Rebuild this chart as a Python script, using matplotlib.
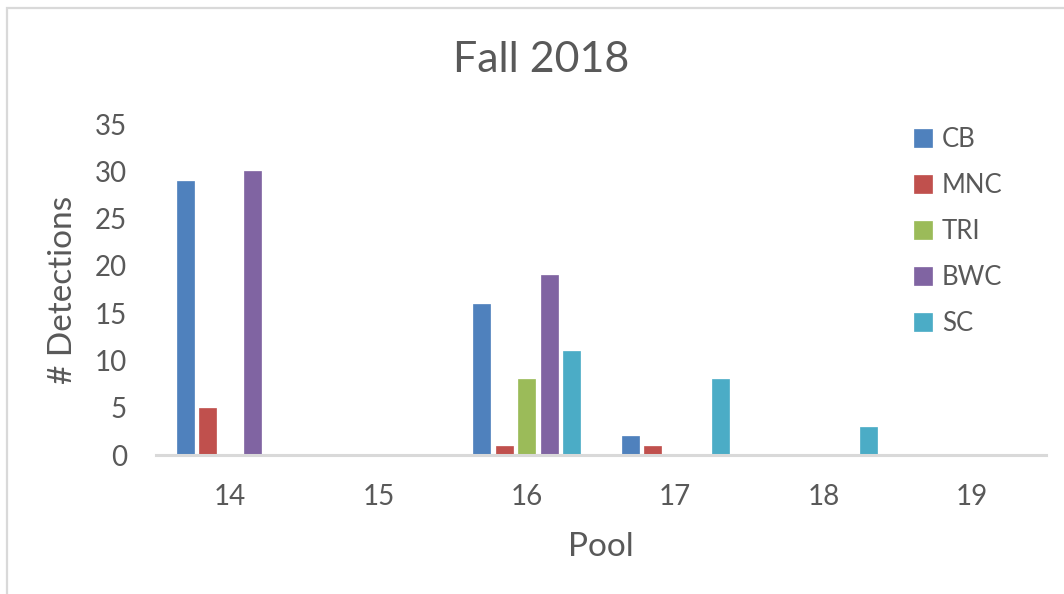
import matplotlib.pyplot as plt
import numpy as np
from matplotlib.patches import Rectangle

plt.rcParams['font.family'] = ['Lato', 'DejaVu Sans']

# data
pools = ["14", "15", "16", "17", "18", "19"]
series_names = ["CB", "MNC", "TRI", "BWC", "SC"]
cb = [29, 0, 16, 2, 0, 0]
mnc = [5, 0, 1, 1, 0, 0]
tri = [0, 0, 8, 0, 0, 0]
bwc = [30, 0, 19, 0, 0, 0]
sc = [0, 0, 11, 8, 3, 0]

colors = ["#4F81BD", "#C0504D", "#9BBB59", "#8064A2", "#4BACC6"]
text_col = "#595959"


def plot_chart():
    fig = plt.figure(figsize=(10.64, 5.94), dpi=100)
    ax = fig.add_axes([156 / 1064, 1 - 455 / 594, 890 / 1064, 331 / 594])

    x = np.arange(len(pools))
    step = 0.152
    width = 0.115
    all_series = [cb, mnc, tri, bwc, sc]
    for i, (name, vals) in enumerate(zip(series_names, all_series)):
        ax.bar(x + (i - 2) * step, vals, width, color=colors[i], label=name,
               edgecolor=colors[i], linewidth=0.5)

    ax.set_xlim(-0.5, len(pools) - 0.5)
    ax.set_ylim(0, 35)
    ax.set_yticks(range(0, 36, 5))
    ax.set_xticks(x)
    ax.set_xticklabels(pools)

    for side in ["top", "right", "left"]:
        ax.spines[side].set_visible(False)
    ax.spines["bottom"].set_color("#D9D9D9")
    ax.spines["bottom"].set_linewidth(2.2)

    ax.tick_params(axis="both", length=0, labelsize=20, colors=text_col)
    ax.tick_params(axis="y", pad=21)
    ax.tick_params(axis="x", pad=21)

    ax.set_xlabel("Pool", fontsize=24, color=text_col, labelpad=16)
    ax.set_ylabel("# Detections", fontsize=24, color=text_col, labelpad=12)
    fig.text(541 / 1064, 1 - 60 / 594, "Fall 2018", fontsize=31, color=text_col,
             ha="center", va="center")

    ax.legend(loc="upper left", bbox_to_anchor=(0.8254, 1.061), frameon=False,
              fontsize=18.5, labelcolor=text_col, handlelength=0.7,
              handleheight=0.7, handletextpad=0.4, labelspacing=0.82)

    # light chart border like the Excel chart area
    fig.patches.append(Rectangle((7 / 1064, -0.01), 1.1, 1 - 8 / 594 + 0.01,
                                 transform=fig.transFigure, fill=False,
                                 edgecolor="#D9D9D9", linewidth=1.6))

    fig.savefig("out.png", dpi=100)


if __name__ == "__main__":
    plot_chart()
